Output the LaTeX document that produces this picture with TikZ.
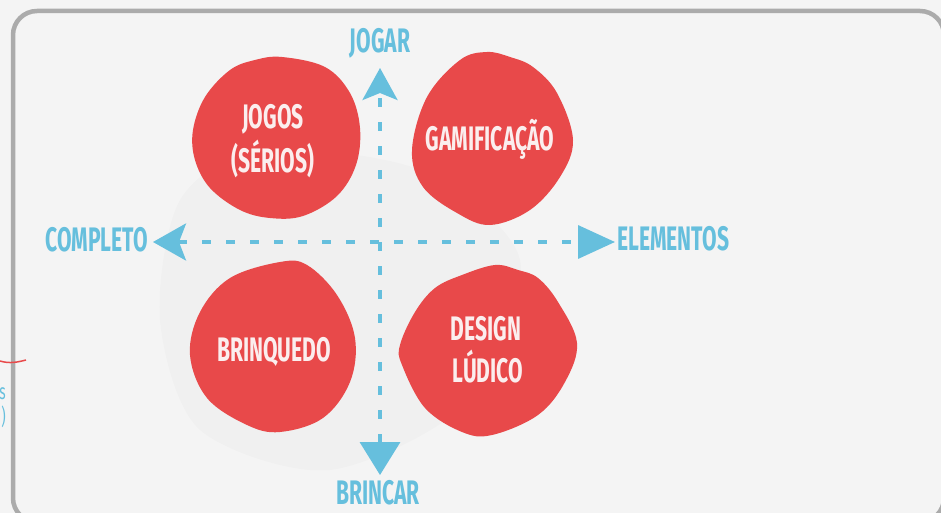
\documentclass[tikz,border=0pt]{standalone}
\usepackage{fontspec}
\usetikzlibrary{arrows.meta}
\newfontfamily\capsfont[FakeStretch=0.62]{Fira Sans}
\definecolor{blobred}{HTML}{E8494A}
\definecolor{axisblue}{HTML}{66BFDD}
\definecolor{paper}{HTML}{F4F4F4}
\definecolor{framegray}{HTML}{ABABAB}
\definecolor{blobwhite}{HTML}{FBEEEE}

\begin{document}
\begin{tikzpicture}[x=1pt,y=-1pt,
    axislabel/.style={text=axisblue,font=\capsfont\bfseries\fontsize{34}{36}\selectfont,inner sep=0pt,anchor=base},
    blobtext/.style={text=blobwhite,font=\capsfont\bfseries\fontsize{34}{36}\selectfont,inner sep=0pt,anchor=base},
    blob/.style={fill=blobred},
    axis/.style={axisblue,line width=3.5pt,dash pattern=on 9pt off 15pt}]
    \useasboundingbox (0,0) rectangle (941,513);
    \fill[paper] (0,0) rectangle (941,513);
    % faint stain
    \fill[black,opacity=0.015] plot[smooth cycle] coordinates {(180,200) (260,150) (420,170) (520,260) (470,400) (330,470) (200,430) (160,320)};
    % frame
    \draw[framegray,line width=4.5pt,rounded corners=24pt] (13,11) rectangle (944,522);

    % leftovers from the neighbouring slide
    \draw[blobred,line width=1.5pt] (0,361) .. controls (10,364) and (18,362) .. (26,360);
    \node[text=axisblue,font=\capsfont\fontsize{22}{24}\selectfont,inner sep=0pt,anchor=base east] (cuts) at (6,399) {s};
    \node[text=axisblue,font=\capsfont\fontsize{22}{24}\selectfont,inner sep=0pt,anchor=base east] (cutp) at (6,424) {)};

    % blobs
    \fill[blob] plot[smooth cycle,tension=0.6] coordinates {(282,57) (325,67) (350,93) (360,128) (356,165) (337,196) (303,216) (270,218) (240,210) (210,188) (195,160) (193,130) (205,97) (230,70) (255,60)};
    \fill[blob] plot[smooth cycle,tension=0.6] coordinates {(487,52) (510,57) (533,67) (557,93) (573,140) (560,177) (530,210) (490,225) (457,213) (423,187) (412,150) (427,97) (460,60)};
    \fill[blob] plot[smooth cycle,tension=0.6] coordinates {(280,262) (307,265) (337,295) (355,338) (350,382) (323,418) (280,432) (247,425) (207,398) (190,355) (200,312) (230,278)};
    \fill[blob] plot[smooth cycle,tension=0.6] coordinates {(495,265) (518,270) (538,278) (558,302) (577,343) (565,382) (538,415) (492,435) (462,432) (425,408) (402,365) (400,345) (415,312) (435,288) (462,275)};

    \node[blobtext] (jogos) at (273,129) {JOGOS};
    \node[blobtext] (serios) at (273,172) {(SÉRIOS)};
    \node[blobtext] (gamif) at (490,150) {GAMIFICAÇÃO};
    \node[blobtext] (brinq) at (274,361) {BRINQUEDO};
    \node[blobtext] (design) at (486,340) {DESIGN};
    \node[blobtext] (ludico) at (488,382) {LÚDICO};

    % axes
    \coordinate (up) at (380,68);
    \coordinate (down) at (380,475);
    \coordinate (left) at (153,242);
    \coordinate (right) at (615,242);
    \draw[axis,{Triangle[length=33pt,width=40pt]}-{Stealth[length=32pt,width=35pt,inset=7pt]}] (down) -- (up);
    \draw[axis,{Stealth[length=33pt,width=37pt,inset=7pt]}-{Triangle[length=37pt,width=33pt]}] (left) -- (right);

    \node[axislabel] (jogar) at (380,53) {JOGAR};
    \node[axislabel] (brincar) at (378,504) {BRINCAR};
    \node[axislabel,anchor=base east] (completo) at (148,251) {COMPLETO};
    \node[axislabel,anchor=base west] (elementos) at (617,250) {ELEMENTOS};
\end{tikzpicture}
\end{document}
